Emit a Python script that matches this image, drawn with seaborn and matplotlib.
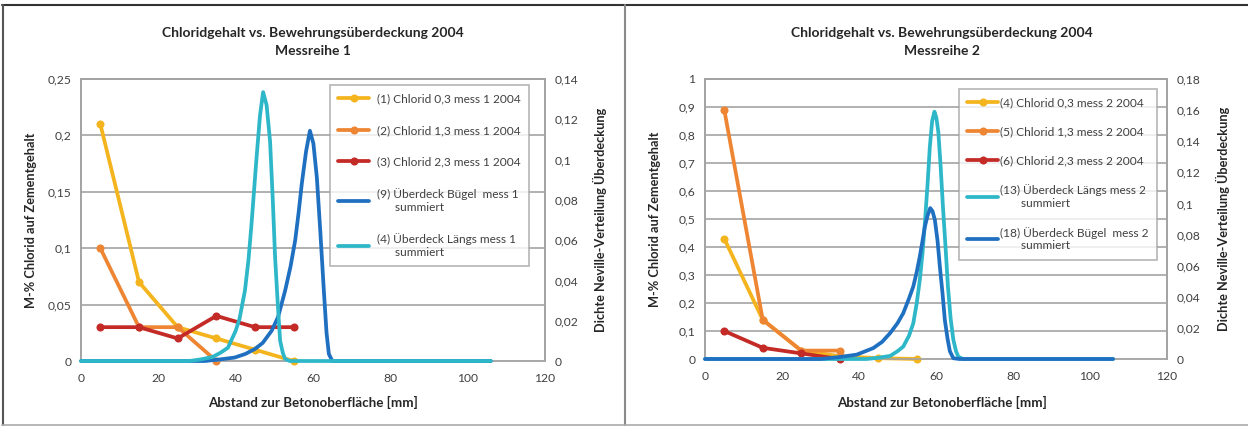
import numpy as np
import pandas as pd
import matplotlib
matplotlib.use("Agg")
import matplotlib.pyplot as plt
from matplotlib.lines import Line2D
from matplotlib.ticker import FixedLocator, FuncFormatter
import seaborn as sns

# ---------------- data ----------------
depth = [5, 15, 25, 35, 45, 55]

# Messreihe 1 (left axis)
m1_cl03 = [0.21, 0.07, 0.03, 0.02, 0.01, 0.0]
m1_cl13 = [0.10, 0.03, 0.03, 0.0]
m1_cl23 = [0.03, 0.03, 0.02, 0.04, 0.03, 0.03]

# Messreihe 1 Neville densities (right axis)
m1_buegel_x = [0, 32, 36, 39.7, 42.5, 45, 47, 49.3, 51, 52.8, 54.2, 55.4, 56.3, 57.1,
               58.2, 59.2, 60.1, 61, 61.9, 62.8, 63.5, 64.1, 65, 106]
m1_buegel_y = [0, 0, 0.0008, 0.0017, 0.0035, 0.006, 0.009, 0.015, 0.022, 0.035, 0.047,
               0.06, 0.074, 0.088, 0.104, 0.1143, 0.108, 0.091, 0.064, 0.035, 0.014,
               0.0035, 0, 0]
m1_laengs_x = [0, 28, 31, 34, 36, 38, 40, 41, 42.4, 43.3, 44.1, 45.4, 46.3, 47.1, 48,
               48.9, 49.6, 50.2, 50.9, 51.5, 52.2, 52.8, 54, 106]
m1_laengs_y = [0, 0, 0.0008, 0.002, 0.004, 0.0066, 0.015, 0.021, 0.035, 0.05, 0.068,
               0.101, 0.122, 0.1335, 0.127, 0.109, 0.08, 0.0513, 0.028, 0.01, 0.004,
               0.001, 0, 0]

# Messreihe 2 (left axis)
m2_cl03 = [0.43, 0.14, 0.03, 0.01, 0.003, 0.0]
m2_cl13 = [0.89, 0.14, 0.03, 0.03]
m2_cl23 = [0.10, 0.04, 0.02, 0.0]

# Messreihe 2 Neville densities (right axis)
m2_laengs_x = [0, 42, 45, 48.1, 50, 51.5, 53, 54.1, 55, 55.8, 56.5, 57.1, 57.8, 58.4,
               59, 59.6, 60.1, 60.6, 61.2, 61.8, 62.5, 63.1, 63.8, 64.5, 65.2, 65.8,
               67, 106]
m2_laengs_y = [0, 0, 0.0008, 0.002, 0.005, 0.008, 0.015, 0.023, 0.036, 0.051, 0.068,
               0.087, 0.112, 0.1365, 0.153, 0.159, 0.155, 0.146, 0.124, 0.098, 0.071,
               0.0466, 0.026, 0.0124, 0.005, 0.0015, 0, 0]
m2_buegel_x = [0, 30, 35.1, 39.4, 43.7, 46, 48.1, 50, 51.5, 53, 54.1, 55, 55.8, 56.5,
               57.1, 57.8, 58.5, 59.1, 59.7, 60.4, 61, 61.7, 62.3, 63, 63.6, 64.5, 66, 106]
m2_buegel_y = [0, 0, 0.0013, 0.0028, 0.007, 0.011, 0.0167, 0.023, 0.0295, 0.039,
               0.0466, 0.056, 0.066, 0.076, 0.085, 0.092, 0.097, 0.095, 0.0895, 0.076,
               0.0595, 0.042, 0.025, 0.013, 0.005, 0.0005, 0, 0]

title_line1 = "Chloridgehalt vs. Bewehrungsüberdeckung 2004"
xlabel = "Abstand zur Betonoberfläche [mm]"
ylabel_left = "M-% Chlorid auf Zementgehalt"
ylabel_right = "Dichte Neville-Verteilung Überdeckung"

c_yellow = "#F4B41E"
c_orange = "#EE8533"
c_red = "#C42A26"
c_blue = "#1F70C1"
c_cyan = "#2DB7C8"
grid_c = "#A3A3A3"
txt_c = "#404040"

# ---------------- style ----------------
sns.set_style("white")
plt.rcParams["font.family"] = ["Lato", "DejaVu Sans"]

W, H = 1248, 426
fig = plt.figure(figsize=(W / 100, H / 100), dpi=100)


def comma(v, pos=None):
    s = ("%.2f" % v).rstrip("0").rstrip(".")
    return s.replace(".", ",")


def px_rect(l, r, t, b):
    return [l / W, 1 - b / H, (r - l) / W, (b - t) / H]


def make_panel(rect, ylim_l, yticks_l, ylim_r, yticks_r, chlor, neville, title2,
               title_x, legend_bbox, ylabel_r_x, lspace, htpad):
    ax = fig.add_axes(rect)
    ax2 = ax.twinx()
    handles = []
    for lab, xs, ys, col in chlor:
        df = pd.DataFrame({"x": xs, "y": ys})
        sns.lineplot(data=df, x="x", y="y", ax=ax, color=col, lw=2.7, marker="o",
                     markersize=5.8, markeredgewidth=0, clip_on=False, zorder=3)
        handles.append((Line2D([], [], color=col, lw=2.7, marker="o", markersize=5.8,
                               markeredgewidth=0), lab))
    for lab, xs, ys, col in neville:
        df = pd.DataFrame({"x": xs, "y": ys})
        sns.lineplot(data=df, x="x", y="y", ax=ax2, color=col, lw=2.7, clip_on=False,
                     zorder=3)
        handles.append((Line2D([], [], color=col, lw=2.7), lab))

    for a in (ax, ax2):
        a.set_xlim(0, 120)
        a.set_xlabel("")
        a.set_ylabel("")
        for s in a.spines.values():
            s.set_color(grid_c)
            s.set_linewidth(1.2)
        a.tick_params(length=0, labelsize=8.7, labelcolor=txt_c, pad=7)
    ax.tick_params(axis="x", pad=9)
    ax.set_ylim(*ylim_l)
    ax2.set_ylim(*ylim_r)
    ax.yaxis.set_major_locator(FixedLocator(yticks_l))
    ax2.yaxis.set_major_locator(FixedLocator(yticks_r))
    ax.yaxis.set_major_formatter(FuncFormatter(comma))
    ax2.yaxis.set_major_formatter(FuncFormatter(comma))
    ax.xaxis.set_major_locator(FixedLocator([0, 20, 40, 60, 80, 100, 120]))
    ax.yaxis.grid(True, color=grid_c, lw=1.2)
    ax.set_axisbelow(True)
    ax.spines["bottom"].set_color("#D0D0D0")

    fig.text(title_x / W, 1 - 33 / H, title_line1, ha="center", va="center",
             fontsize=10, fontweight="bold", color="#262626")
    fig.text(title_x / W, 1 - 51 / H, title2, ha="center", va="center",
             fontsize=10, fontweight="bold", color="#262626")
    fig.text(title_x / W, 1 - 402 / H, xlabel, ha="center", va="center",
             fontsize=9.6, fontweight="bold", color="#262626")
    fig.text((rect[0] * W - 50) / W, rect[1] + rect[3] / 2, ylabel_left, rotation=90,
             ha="center", va="center", fontsize=9.2, fontweight="bold", color="#262626")
    fig.text(ylabel_r_x / W, rect[1] + rect[3] / 2, ylabel_right, rotation=90,
             ha="center", va="center", fontsize=9.2, fontweight="bold", color="#262626")

    leg = ax2.legend([h for h, _ in handles], [l for _, l in handles],
                     loc="upper left", bbox_to_anchor=legend_bbox,
                     bbox_transform=fig.transFigure, frameon=True, fancybox=False,
                     edgecolor=grid_c, fontsize=8.6, labelspacing=lspace,
                     handlelength=2.6, handletextpad=htpad, borderpad=0.7,
                     borderaxespad=0)
    leg.get_frame().set_linewidth(1.2)
    for t in leg.get_texts():
        t.set_color(txt_c)
    return ax, ax2


# Left panel
make_panel(px_rect(81, 545, 79, 361), (0, 0.25), [0, 0.05, 0.1, 0.15, 0.2, 0.25],
           (0, 0.14), [0, 0.02, 0.04, 0.06, 0.08, 0.1, 0.12, 0.14],
           [("(1) Chlorid 0,3 mess 1 2004", depth, m1_cl03, c_yellow),
            ("(2) Chlorid 1,3 mess 1 2004", depth[:4], m1_cl13, c_orange),
            ("(3) Chlorid 2,3 mess 1 2004", depth, m1_cl23, c_red)],
           [("(9) Überdeck Bügel  mess 1\n      summiert", m1_buegel_x, m1_buegel_y, c_blue),
            ("(4) Überdeck Längs mess 1\n      summiert", m1_laengs_x, m1_laengs_y, c_cyan)],
           "Messreihe 1", 313, (330 / W, 1 - 85 / H), 600, 1.72, 0.6)

# Right panel
make_panel(px_rect(705, 1167, 79, 359), (0, 1.0), [i / 10 for i in range(11)],
           (0, 0.18), [0, 0.02, 0.04, 0.06, 0.08, 0.1, 0.12, 0.14, 0.16, 0.18],
           [("(4) Chlorid 0,3 mess 2 2004", depth, m2_cl03, c_yellow),
            ("(5) Chlorid 1,3 mess 2 2004", depth[:4], m2_cl13, c_orange),
            ("(6) Chlorid 2,3 mess 2 2004", depth[:4], m2_cl23, c_red)],
           [("(13) Überdeck Längs mess 2\n       summiert", m2_laengs_x, m2_laengs_y, c_cyan),
            ("(18) Überdeck Bügel  mess 2\n       summiert", m2_buegel_x, m2_buegel_y, c_blue)],
           "Messreihe 2", 942, (959 / W, 1 - 89 / H), 1223, 1.5, 0.15)

# panel frames
fig.add_artist(Line2D([0.002, 1.0], [1 - 5 / H, 1 - 5 / H], transform=fig.transFigure,
                      color="#333333", lw=1.5))
fig.add_artist(Line2D([3 / W, 3 / W], [1 / H, 1 - 5 / H], transform=fig.transFigure,
                      color="#555555", lw=1.5))
fig.add_artist(Line2D([625 / W, 625 / W], [1 / H, 1 - 5 / H], transform=fig.transFigure,
                      color="#8A8A8A", lw=1.5))
fig.add_artist(Line2D([0.002, 1.0], [1.2 / H, 1.2 / H], transform=fig.transFigure,
                      color="#AAAAAA", lw=1.2))

fig.savefig("out.png", dpi=100, facecolor="white")
